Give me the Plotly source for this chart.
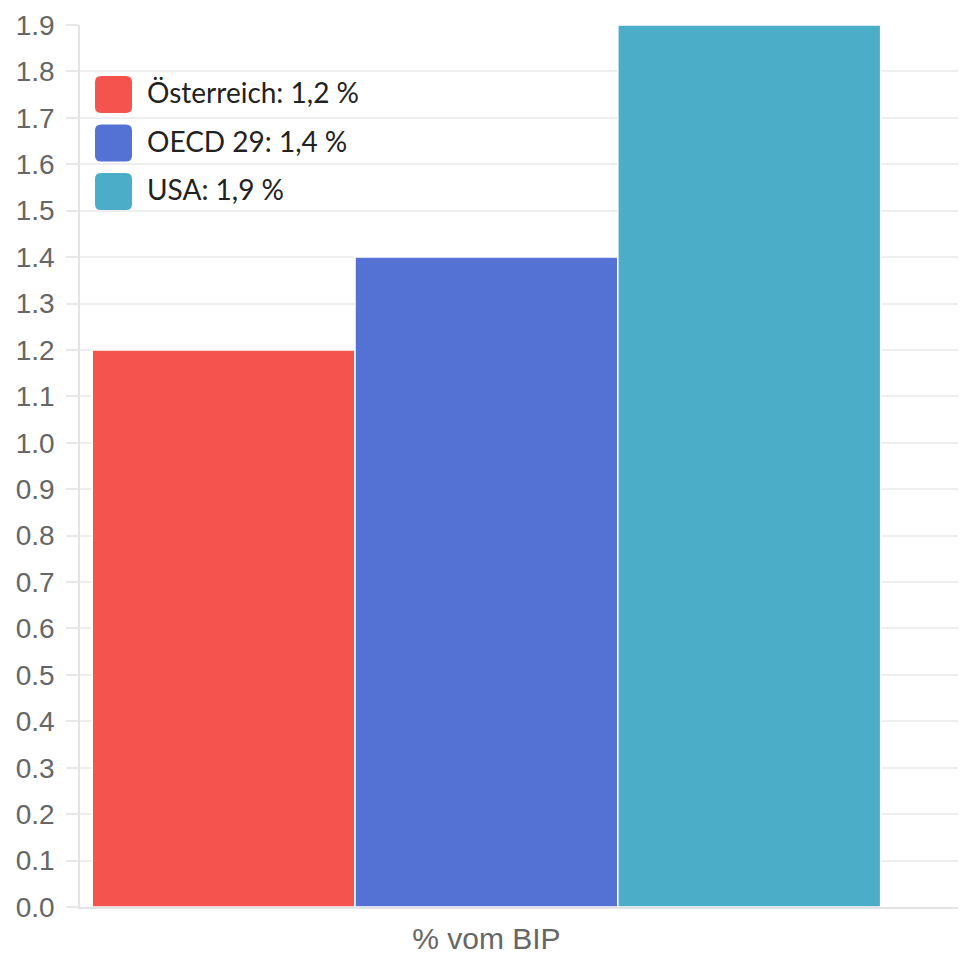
import re
import plotly.graph_objects as go

category = ["% vom BIP"]
series_names = ["Österreich", "OECD 29", "USA"]
series_values = [1.2, 1.4, 1.9]
series_labels = ["1,2\u202f%", "1,4\u202f%", "1,9\u202f%"]
colors = ["#F4534E", "#5472D3", "#4BADC8"]
y_ticks = [round(i * 0.1, 1) for i in range(20)]
y_ticktext = [f"{v:.1f}" for v in y_ticks]

OFF = 8  # default body margin of the html page
W, H = 966 - OFF, 954 - OFF
# plot area in page pixels: left 80, top 25, right 966, bottom 907
L, T = 80 - OFF, 25 - OFF
R = 0
B = H - (907 - OFF)

pw, ph = W - L - R, H - T - B


def px_x(x):
    return (x - OFF - L) / pw


def px_y(y):
    return 1 - (y - OFF - T) / ph


fig = go.Figure()
for name, val, col in zip(series_names, series_values, colors):
    fig.add_trace(go.Bar(
        x=category, y=[val], name=name,
        marker=dict(color=col, line=dict(color="white", width=1.5)),
        showlegend=False, hoverinfo="skip",
    ))

shapes = []
annotations = []
for i, (name, lab, col) in enumerate(zip(series_names, series_labels, colors)):
    y0 = 76 + i * 48.5
    x0, x1, y1 = 95, 132, y0 + 37
    r = 6
    path = (f"M {x0+r},{y0} L {x1-r},{y0} Q {x1},{y0} {x1},{y0+r} "
            f"L {x1},{y1-r} Q {x1},{y1} {x1-r},{y1} L {x0+r},{y1} "
            f"Q {x0},{y1} {x0},{y1-r} L {x0},{y0+r} Q {x0},{y0} {x0+r},{y0} Z")

    def conv(m):
        a, b = float(m.group(1)), float(m.group(2))
        return f"{px_x(a):.6f},{px_y(b):.6f}"

    ppath = re.sub(r"(-?[\d.]+),(-?[\d.]+)", conv, path)
    shapes.append(dict(type="path", xref="paper", yref="paper", path=ppath,
                       fillcolor=col, line=dict(width=0), layer="above"))
    annotations.append(dict(
        xref="paper", yref="paper", x=px_x(145), y=px_y(y0 + 16),
        xanchor="left", yanchor="middle", showarrow=False,
        text=f"{name}: {lab}",
        font=dict(family="Lato", size=28, color="#222222"),
    ))

fig.update_layout(
    width=W, height=H,
    margin=dict(l=L, r=R, t=T, b=B, autoexpand=False),
    paper_bgcolor="white", plot_bgcolor="white",
    barmode="group", bargap=0.03, bargroupgap=0,
    shapes=shapes, annotations=annotations,
    xaxis=dict(
        type="category", range=[-0.5, 0.59], automargin=False,
        showgrid=False, showline=True, linecolor="#e4e4e4", linewidth=2,
        tickfont=dict(family="Liberation Sans", size=30, color="#666666"),
        ticks="", ticklabelstandoff=4,
    ),
    yaxis=dict(
        range=[0, 1.9], tickvals=y_ticks, ticktext=y_ticktext, automargin=False,
        showgrid=True, gridcolor="#eeeeee", gridwidth=1.5,
        showline=True, linecolor="#e4e4e4", linewidth=1.5,
        ticks="outside", ticklen=12, tickcolor="#e8e8e8", tickwidth=1.5,
        ticklabelstandoff=6,
        tickfont=dict(family="Liberation Sans", size=28, color="#666666"),
        zeroline=False,
    ),
)

fig.write_html("out.html")
